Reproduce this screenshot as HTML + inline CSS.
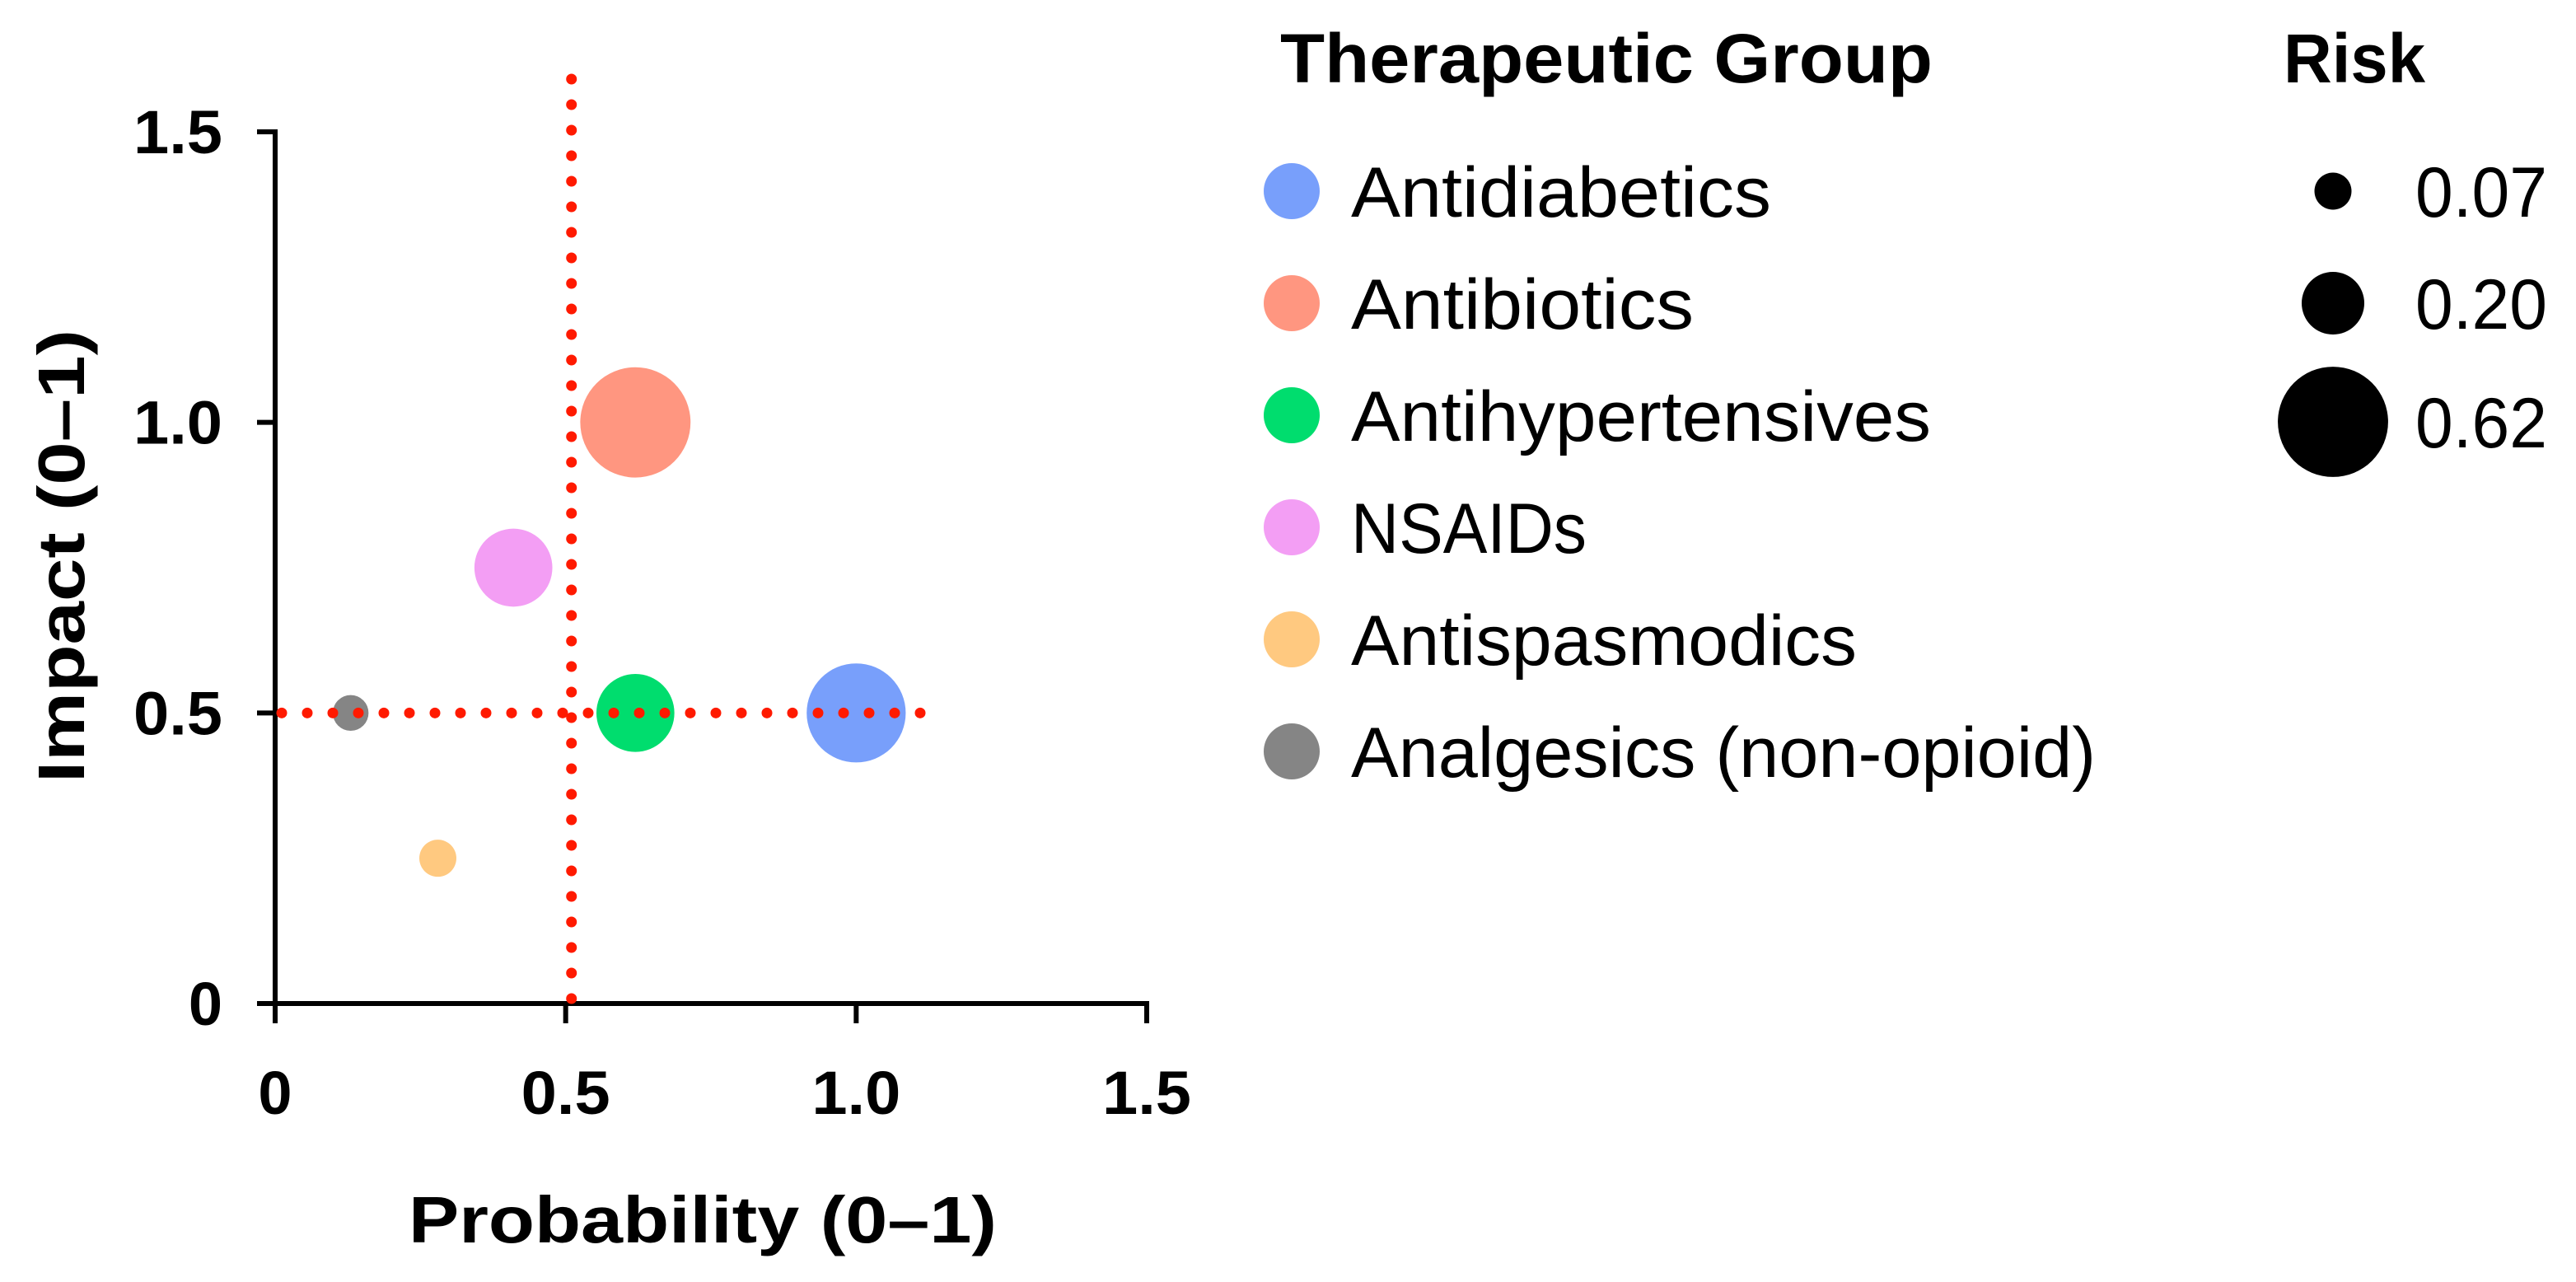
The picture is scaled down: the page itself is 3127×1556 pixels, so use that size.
<!DOCTYPE html>
<html><head><meta charset="utf-8"><style>
html,body{margin:0;padding:0;background:#fff;}
svg{display:block;font-family:"Liberation Sans",Arial,sans-serif;}
</style></head><body>
<svg id="chart" width="3127" height="1556" viewBox="0 0 3127 1556" xmlns="http://www.w3.org/2000/svg">
<rect width="3127" height="1556" fill="#fff"/>
<g id="plot"></g>
<g id="legend"></g>
</svg>
<script>
const groups = ["Antidiabetics","Antibiotics","Antihypertensives","NSAIDs","Antispasmodics","Analgesics (non-opioid)"];
const probability = [1.0, 0.62, 0.62, 0.41, 0.28, 0.13];
const impact = [0.5, 1.0, 0.5, 0.75, 0.25, 0.5];
const risk = [0.5, 0.62, 0.31, 0.31, 0.07, 0.065];
const colors = ["#789ffb","#ff9680","#00dd6e","#f39ef4","#ffc980","#858585"];
const ticks = [0, 0.5, 1.0, 1.5];
const tickLabels = ["0","0.5","1.0","1.5"];
const riskLegend = [0.07, 0.20, 0.62];
const riskLegendLabels = ["0.07","0.20","0.62"];
const refX = 0.51;
const refY = 0.5;

const NS="http://www.w3.org/2000/svg";
const X0=334, X1=1392, Y0=1218, Y1=160;
const xs=v=>X0+(v/1.5)*(X1-X0);
const ys=v=>Y0-(v/1.5)*(Y0-Y1);
const rs=v=>85*Math.sqrt(v);
function mk(tag,attrs,parent,text){const e=document.createElementNS(NS,tag);for(const k in attrs)e.setAttribute(k,attrs[k]);if(text!==undefined)e.textContent=text;parent.appendChild(e);return e;}
const plot=document.getElementById('plot'), leg=document.getElementById('legend');

let a=mk('line',{x1:X0,y1:Y1-3,x2:X0,y2:Y0+3,stroke:'#000','stroke-width':6},plot);


a=mk('line',{x1:X0-3,y1:Y0,x2:X1+3,y2:Y0,stroke:'#000','stroke-width':6},plot);


ticks.forEach((t,i)=>{
  let l=mk('line',{x1:X0-22,y1:ys(t),x2:X0,y2:ys(t),stroke:'#000','stroke-width':6},plot);
  
  
  const tw = tickLabels[i].length>1 ? {textLength:108,lengthAdjust:'spacingAndGlyphs'} : {};
  let tx=mk('text',Object.assign({x:270,y:ys(t)+26,'text-anchor':'end','font-size':74,'font-weight':'bold'},tw),plot,tickLabels[i]);
  
  
  l=mk('line',{x1:xs(t),y1:Y0,x2:xs(t),y2:Y0+24,stroke:'#000','stroke-width':6},plot);
  
  
  tx=mk('text',Object.assign({x:xs(t),y:1352,'text-anchor':'middle','font-size':74,'font-weight':'bold'},tw),plot,tickLabels[i]);
  
  
});
let t=mk('text',{x:853,y:1508,'text-anchor':'middle','font-size':80,'font-weight':'bold',textLength:714,lengthAdjust:'spacingAndGlyphs'},plot,'Probability (0–1)');


t=mk('text',{x:0,y:0,'text-anchor':'middle','font-size':80,'font-weight':'bold',textLength:550,lengthAdjust:'spacingAndGlyphs',transform:'translate(102,675) rotate(-90)'},plot,'Impact (0–1)');



groups.forEach((g,i)=>{
  const c=mk('circle',{cx:xs(probability[i]),cy:ys(impact[i]),r:rs(risk[i]),fill:colors[i]},plot);
  
  
});

let rl=mk('line',{x1:xs(refX),y1:96,x2:xs(refX),y2:Y0,stroke:'#ff1a00','stroke-width':13,'stroke-linecap':'round','stroke-dasharray':'0 31'},plot);


rl=mk('line',{x1:342,y1:ys(refY),x2:1140,y2:ys(refY),stroke:'#ff1a00','stroke-width':13,'stroke-linecap':'round','stroke-dasharray':'0 31'},plot);



t=mk('text',{x:1554,y:100,'font-size':84,'font-weight':'bold',textLength:792,lengthAdjust:'spacingAndGlyphs'},leg,'Therapeutic Group');


const itemW=[510,416,704,286,614,904];
groups.forEach((g,i)=>{
  const cy=232+i*136;
  const c=mk('circle',{cx:1568,cy:cy,r:34,fill:colors[i]},leg);
  
  
  const tx=mk('text',{x:1640,y:cy+31,'font-size':86,textLength:itemW[i],lengthAdjust:'spacingAndGlyphs'},leg,g);
  
  
});
t=mk('text',{x:2772,y:100,'font-size':84,'font-weight':'bold',textLength:172,lengthAdjust:'spacingAndGlyphs'},leg,'Risk');


const rY=[232,368,512];
riskLegend.forEach((v,i)=>{
  const c=mk('circle',{cx:2832,cy:rY[i],r:rs(v),fill:'#000'},leg);
  
  
  const tx=mk('text',{x:2932,y:rY[i]+31,'font-size':86,textLength:160,lengthAdjust:'spacingAndGlyphs'},leg,riskLegendLabels[i]);
  
  
});
</script>
</body></html>
